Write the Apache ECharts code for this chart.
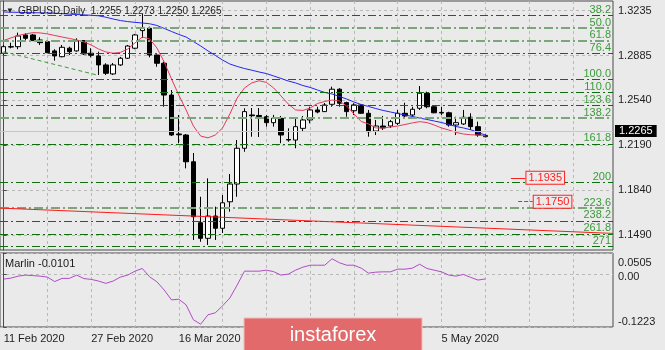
<!DOCTYPE html>
<html><head><meta charset="utf-8">
<script src="https://cdn.jsdelivr.net/npm/echarts@6/dist/echarts.min.js"></script>
<style>html,body{margin:0;padding:0;background:#eaeaea}#c{width:665px;height:350px}</style>
</head><body><div id="c"></div>
<script>
// ---------- data ----------
const symbolName = 'GBPUSD,Daily';
const dates = ['11 Feb 2020','12 Feb 2020','13 Feb 2020','14 Feb 2020','17 Feb 2020','18 Feb 2020','19 Feb 2020','20 Feb 2020','21 Feb 2020','24 Feb 2020','25 Feb 2020','26 Feb 2020','27 Feb 2020','28 Feb 2020',
'2 Mar 2020','3 Mar 2020','4 Mar 2020','5 Mar 2020','6 Mar 2020','9 Mar 2020','10 Mar 2020','11 Mar 2020','12 Mar 2020','13 Mar 2020','16 Mar 2020','17 Mar 2020','18 Mar 2020','19 Mar 2020','20 Mar 2020','23 Mar 2020','24 Mar 2020','25 Mar 2020','26 Mar 2020','27 Mar 2020','30 Mar 2020','31 Mar 2020',
'1 Apr 2020','2 Apr 2020','3 Apr 2020','6 Apr 2020','7 Apr 2020','8 Apr 2020','9 Apr 2020','10 Apr 2020','13 Apr 2020','14 Apr 2020','15 Apr 2020','16 Apr 2020','17 Apr 2020','20 Apr 2020','21 Apr 2020','22 Apr 2020','23 Apr 2020','24 Apr 2020','27 Apr 2020','28 Apr 2020','29 Apr 2020','30 Apr 2020',
'1 May 2020','4 May 2020','5 May 2020','6 May 2020','7 May 2020','8 May 2020','11 May 2020','12 May 2020','13 May 2020'];
// [open, close, low, high]
const ohlc = [
[1.2904,1.2955,1.2890,1.2968],[1.2955,1.2952,1.2942,1.2986],[1.2955,1.3038,1.2935,1.3064],[1.3046,1.3020,1.3007,1.3059],[1.3046,1.3002,1.2999,1.3054],
[1.3007,1.2986,1.2968,1.3028],[1.2994,1.2908,1.2904,1.3002],[1.2922,1.2883,1.2846,1.2935],[1.2877,1.2950,1.2872,1.2968],[1.2943,1.2916,1.2890,1.2955],
[1.2922,1.3000,1.2916,1.3020],[1.3002,1.2898,1.2890,1.3007],[1.2904,1.2888,1.2872,1.2943],[1.2883,1.2813,1.2735,1.2916],[1.2813,1.2748,1.2735,1.2826],
[1.2743,1.2813,1.2735,1.2828],[1.2813,1.2865,1.2805,1.2875],[1.2865,1.2960,1.2859,1.2968],[1.2943,1.3046,1.2935,1.3054],[1.3080,1.3098,1.3023,1.3210],
[1.3098,1.2890,1.2872,1.3111],[1.2890,1.2826,1.2799,1.2895],[1.2826,1.2579,1.2488,1.2838],[1.2579,1.2268,1.2260,1.2618],[1.2276,1.2270,1.2204,1.2424],
[1.2268,1.2060,1.2009,1.2276],[1.2060,1.1633,1.1452,1.2128],[1.1586,1.1465,1.1438,1.1788],[1.1465,1.1638,1.1413,1.1931],[1.1638,1.1543,1.1452,1.1711],
[1.1543,1.1741,1.1506,1.1801],[1.1749,1.1887,1.1672,1.1965],[1.1887,1.2165,1.1788,1.2229],[1.2165,1.2450,1.2138,1.2476],[1.2424,1.2418,1.2255,1.2478],
[1.2420,1.2412,1.2253,1.2478],[1.2410,1.2364,1.2333,1.2424],[1.2364,1.2398,1.2333,1.2424],[1.2398,1.2268,1.2204,1.2416],[1.2233,1.2229,1.2216,1.2320],
[1.2229,1.2333,1.2165,1.2398],[1.2320,1.2385,1.2294,1.2416],[1.2385,1.2463,1.2359,1.2488],[1.2463,1.2447,1.2437,1.2488],[1.2450,1.2502,1.2447,1.2517],
[1.2507,1.2624,1.2488,1.2644],[1.2624,1.2515,1.2488,1.2632],[1.2520,1.2450,1.2410,1.2527],[1.2457,1.2502,1.2424,1.2515],[1.2502,1.2437,1.2432,1.2509],
[1.2437,1.2294,1.2255,1.2463],[1.2299,1.2338,1.2268,1.2385],[1.2338,1.2323,1.2307,1.2416],[1.2338,1.2372,1.2323,1.2385],[1.2359,1.2437,1.2346,1.2463],
[1.2437,1.2416,1.2406,1.2519],[1.2424,1.2468,1.2410,1.2488],[1.2476,1.2593,1.2463,1.2649],[1.2593,1.2488,1.2476,1.2605],[1.2488,1.2441,1.2437,1.2494],
[1.2444,1.2439,1.2424,1.2488],[1.2441,1.2346,1.2333,1.2449],[1.2346,1.2364,1.2268,1.2410],[1.2354,1.2406,1.2346,1.2463],[1.2406,1.2333,1.2307,1.2437],
[1.2333,1.2268,1.2255,1.2372],[1.2255,1.2265,1.2250,1.2273]];
const maRed = [1.3003,1.3023,1.3042,1.3054,1.3064,1.3062,1.3054,1.3042,1.3030,1.3019,1.3007,1.2992,1.2968,1.2937,1.2914,1.2904,1.2910,1.2937,1.2984,1.3030,
1.3015,1.2945,1.2836,1.2704,1.2579,1.2463,1.2338,1.2260,1.2246,1.2268,1.2323,1.2432,1.2556,1.2634,1.2673,1.2690,1.2677,1.2634,1.2572,1.2509,
1.2463,1.2459,1.2478,1.2513,1.2529,1.2540,1.2533,1.2494,1.2432,1.2373,1.2354,1.2323,1.2323,1.2330,1.2338,1.2350,1.2362,1.2372,1.2365,1.2346,
1.2323,1.2307,1.2288,1.2276,1.2270,1.2268,1.2264];
const maBlue = [1.3225,1.3223,1.3222,1.3220,1.3219,1.3218,1.3217,1.3215,1.3212,1.3208,1.3205,1.3202,1.3199,1.3195,1.3184,1.3170,1.3158,1.3150,1.3144,1.3139,
1.3133,1.3120,1.3097,1.3073,1.3050,1.3030,1.2995,1.2960,1.2922,1.2887,1.2851,1.2820,1.2801,1.2785,1.2772,1.2758,1.2746,1.2727,1.2708,1.2688,
1.2673,1.2653,1.2638,1.2618,1.2599,1.2587,1.2568,1.2548,1.2525,1.2505,1.2490,1.2474,1.2459,1.2447,1.2435,1.2424,1.2412,1.2400,1.2389,1.2377,
1.2365,1.2350,1.2334,1.2323,1.2309,1.2288,1.2268];
const marlin = [-0.0104,-0.0081,-0.0035,-0.0011,-0.0023,-0.0035,-0.0058,-0.0162,-0.0088,-0.0088,
-0.0011,-0.0093,-0.0111,-0.0150,-0.0204,-0.0150,-0.0058,-0.0011,0.0081,0.0144,
-0.0051,-0.0167,-0.0359,-0.0590,-0.0574,-0.0706,-0.1054,-0.1158,-0.0938,-0.0892,
-0.0729,-0.0544,-0.0243,0.0081,0.0081,0.0081,0.0104,0.0070,-0.0011,0.0012,
0.0104,0.0174,0.0220,0.0220,0.0220,0.0371,0.0278,0.0220,0.0220,0.0151,
0.0035,0.0058,0.0065,0.0065,0.0128,0.0128,0.0151,0.0243,0.0144,0.0104,
0.0065,-0.0011,-0.0035,0.0005,-0.0065,-0.0127,-0.0101];
const priceTicks = [1.3235,1.2885,1.2540,1.2190,1.1840,1.1490];
const marlinTicks = [0.0505,0.00,-0.1223];
const marlinTickLabels = ['0.0505','0.00','-0.1223'];
const fibNames  = ['38.2','50.0','61.8','76.4','100.0','110.0','123.6','138.2','161.8','200','223.6','238.2','261.8','271'];
const fibPrices = [1.3215,1.3124,1.3023,1.2911,1.2725,1.2649,1.2544,1.2427,1.2243,1.1931,1.1749,1.1633,1.1462,1.1380];
const fibLight  = ['50.0','61.8','138.2','223.6'];
const bidPrice = 1.2265;
const redLevelPrices = [1.1935,1.1750];
const redLevelFrom = [69.5,70.5];
const redLevelTo = [71.5,72.5];
const trendRed = [[-0.5,1.1700],[83.5,1.1503]];
const trendGreen = [[0,1.2916],[12.75,1.2735]];
const marlinLast = -0.0101;
const SLOTS = 84;

// ---------- chart ----------
const FONT = 'Liberation Sans, Arial, sans-serif';
const cats = dates.concat(Array.from({length: SLOTS - dates.length}, (_, i) => '#' + i));
const vGrid = Array.from({length: 14}, (_, i) => i * 6);
const last = ohlc[ohlc.length - 1];
const header = symbolName + '  ' + [last[0], last[3], last[2], last[1]].map(v => v.toFixed(4)).join(' ');

const gridLine = {show: true, lineStyle: {color: '#b9b9b9', width: 1, type: [3, 3]}};
const frame = '#4a4a4a';

const fibData = fibNames.map((n, i) => ({
  yAxis: fibPrices[i],
  label: {formatter: n},
  lineStyle: fibLight.indexOf(n) >= 0
    ? {color: '#7aa67a', width: 2, type: [9, 3, 2, 3]}
    : {color: '#0c6e0c', width: 1, type: [8, 3, 2, 3]}
}));

const redLevelData = redLevelPrices.map((p, i) => [
  {coord: [redLevelFrom[i], p], label: {formatter: p.toFixed(4)},
   lineStyle: {color: '#ff2020', width: 1, type: i === 0 ? 'solid' : [4, 2]}},
  {coord: [redLevelTo[i], p]}
]);

const option = {
  backgroundColor: '#eaeaea',
  animation: false,
  textStyle: {fontFamily: FONT},
  grid: [
    {left: 0, right: 52, top: 1, height: 249, show: true, borderColor: frame, borderWidth: 1},
    {left: 0, right: 52, top: 253, height: 74, show: true, borderColor: frame, borderWidth: 1}
  ],
  xAxis: [
    {type: 'category', gridIndex: 0, data: cats, boundaryGap: true,
     axisLine: {show: false}, axisTick: {show: false}, axisLabel: {show: false}, splitLine: {show: false}},
    {type: 'category', gridIndex: 1, data: cats, boundaryGap: true,
     axisLine: {show: false}, axisTick: {show: false}, splitLine: {show: false},
     axisLabel: {show: true, interval: 11, align: 'left', fontSize: 11, color: '#1e1e1e', margin: 6,
       fontFamily: FONT, formatter: v => v.charAt(0) === '#' ? '' : v}},
    {type: 'value', gridIndex: 0, min: -0.5, max: SLOTS - 0.5,
     axisLine: {show: false}, axisLabel: {show: false},
     axisTick: {show: false, customValues: vGrid}, splitLine: gridLine},
    {type: 'value', gridIndex: 1, min: -0.5, max: SLOTS - 0.5,
     axisLine: {show: false}, axisLabel: {show: false},
     axisTick: {show: false, customValues: vGrid}, splitLine: gridLine}
  ],
  yAxis: [
    {type: 'value', gridIndex: 0, position: 'right', min: 1.1374, max: 1.3310, scale: true,
     axisLine: {show: true, lineStyle: {color: frame}},
     axisTick: {show: true, length: 3, customValues: priceTicks, lineStyle: {color: frame}},
     axisLabel: {customValues: priceTicks, formatter: v => v.toFixed(4), fontSize: 11, color: '#1e1e1e', margin: 5, fontFamily: FONT},
     splitLine: gridLine},
    {type: 'value', gridIndex: 1, position: 'right', min: -0.1223, max: 0.0505, scale: true,
     axisLine: {show: true, lineStyle: {color: frame}},
     axisTick: {show: true, length: 3, customValues: marlinTicks, lineStyle: {color: frame}},
     axisLabel: {customValues: marlinTicks, fontSize: 11, color: '#1e1e1e', margin: 5, fontFamily: FONT,
       formatter: v => {
         const i = marlinTicks.findIndex(t => Math.abs(t - v) < 1e-6);
         const s = i >= 0 ? marlinTickLabels[i] : '';
         return i === 0 ? '{t|' + s + '}' : i === 2 ? '{b|' + s + '}' : '{z|' + s + '}';
       },
       rich: {t: {padding: [20, 0, 0, 0], fontSize: 11, color: '#1e1e1e'},
              b: {padding: [0, 0, 11, 0], fontSize: 11, color: '#1e1e1e'},
              z: {padding: [5, 0, 0, 0], fontSize: 11, color: '#1e1e1e'}}},
     splitLine: {show: true, lineStyle: {color: '#b9b9b9', type: [3, 3]}}}
  ],
  series: [
    {type: 'line', xAxisIndex: 2, yAxisIndex: 0, data: [], z: 1, silent: true,
     markLine: {silent: true, symbol: ['none', 'none'], animation: false,
       label: {position: 'insideEndTop', color: '#3c9a3c', fontSize: 11, fontFamily: FONT, distance: [2, 0]},
       data: fibData}},
    {type: 'line', xAxisIndex: 2, yAxisIndex: 0, data: [], z: 1, silent: true,
     markLine: {silent: true, symbol: ['none', 'none'], animation: false,
       data: [{yAxis: bidPrice, lineStyle: {color: '#c6c6c6', width: 1, type: 'solid'},
         label: {position: 'end', formatter: bidPrice.toFixed(4), color: '#ffffff', backgroundColor: '#000000',
           padding: [1, 4, 0, 4], fontSize: 11, fontFamily: FONT, distance: 2}}]}},
    {type: 'candlestick', xAxisIndex: 0, yAxisIndex: 0, data: ohlc, barWidth: 5, z: 3,
     itemStyle: {color: '#ffffff', color0: '#000000', borderColor: '#000000', borderColor0: '#000000', borderWidth: 1}},
    {type: 'line', xAxisIndex: 0, yAxisIndex: 0, data: maBlue, symbol: 'none', z: 4,
     lineStyle: {color: '#2424f0', width: 1}},
    {type: 'line', xAxisIndex: 0, yAxisIndex: 0, data: maRed, symbol: 'none', z: 4,
     lineStyle: {color: '#e8385a', width: 1}},
    {type: 'line', xAxisIndex: 2, yAxisIndex: 0, data: [], z: 5, silent: true,
     markLine: {silent: true, symbol: ['none', 'none'], animation: false,
       label: {position: 'end', color: '#ff2020', fontSize: 11, fontFamily: FONT, distance: 1,
         borderColor: '#ff2020', borderWidth: 1, padding: [1, 2, 0, 2], backgroundColor: '#eaeaea'},
       data: [
         [{coord: trendRed[0], lineStyle: {color: '#ff1a1a', width: 1, type: 'solid'}, label: {show: false}}, {coord: trendRed[1]}],
         [{coord: trendGreen[0], lineStyle: {color: '#3f9a3f', width: 1, type: [4, 3]}, label: {show: false}}, {coord: trendGreen[1]}]
       ].concat(redLevelData)}},
    {type: 'line', xAxisIndex: 1, yAxisIndex: 1, data: marlin, symbol: 'none', z: 4,
     lineStyle: {color: '#b04cc6', width: 1}}
  ],
  graphic: [
    {type: 'text', z: 100, style: {text: '\u25BC', x: 6, y: 11, fontSize: 8, fill: '#202020', verticalAlign: 'middle'}},
    {type: 'text', z: 100, style: {text: header, x: 18, y: 11, fontSize: 10, fontFamily: FONT, fill: '#1a1a1a', verticalAlign: 'middle'}},
    {type: 'text', z: 100, style: {text: 'Marlin ' + marlinLast.toFixed(4), x: 5, y: 264, fontSize: 11, fontFamily: FONT, fill: '#1a1a1a', verticalAlign: 'middle'}},
    {type: 'rect', z: 100, shape: {x: 244, y: 318, width: 178, height: 34}, style: {fill: '#e26a6a', stroke: '#f4b9b9', lineWidth: 1}},
    {type: 'text', z: 101, style: {text: 'instaforex', x: 333, y: 335, fontSize: 20, fontFamily: FONT, fill: '#ffffff', align: 'center', verticalAlign: 'middle'}}
  ]
};
const chart = echarts.init(document.getElementById('c'));
chart.setOption(option);
</script>
</body></html>
